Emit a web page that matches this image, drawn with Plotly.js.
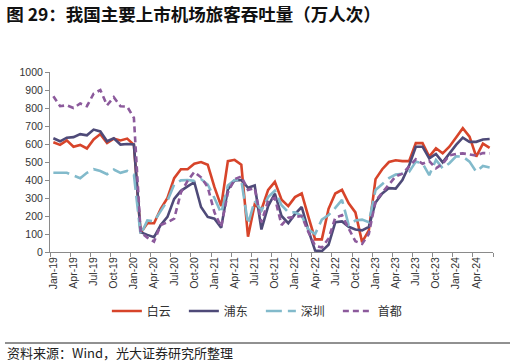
<!DOCTYPE html>
<html>
<head>
<meta charset="utf-8">
<script src="https://cdn.plot.ly/plotly-3.0.1.min.js"></script>
<style>
html,body{margin:0;padding:0;background:#fff;}
#chart{width:516px;height:364px;}
</style>
</head>
<body>
<div id="chart"></div>
<script>
// Months Jan-19 .. Jun-24
const months = ["Jan-19","Feb-19","Mar-19","Apr-19","May-19","Jun-19","Jul-19","Aug-19","Sep-19","Oct-19","Nov-19","Dec-19",
"Jan-20","Feb-20","Mar-20","Apr-20","May-20","Jun-20","Jul-20","Aug-20","Sep-20","Oct-20","Nov-20","Dec-20",
"Jan-21","Feb-21","Mar-21","Apr-21","May-21","Jun-21","Jul-21","Aug-21","Sep-21","Oct-21","Nov-21","Dec-21",
"Jan-22","Feb-22","Mar-22","Apr-22","May-22","Jun-22","Jul-22","Aug-22","Sep-22","Oct-22","Nov-22","Dec-22",
"Jan-23","Feb-23","Mar-23","Apr-23","May-23","Jun-23","Jul-23","Aug-23","Sep-23","Oct-23","Nov-23","Dec-23",
"Jan-24","Feb-24","Mar-24","Apr-24","May-24","Jun-24"];

const baiyun = [610,595,620,585,595,575,625,655,605,630,620,630,
595,105,160,160,240,300,410,460,460,490,500,485,
360,255,505,512,485,85,265,235,345,390,290,255,
305,325,195,70,70,240,325,345,270,220,55,120,
405,460,500,510,505,505,605,605,530,576,548,585,
636,688,641,530,602,578];

const pudong = [632,615,635,638,655,648,680,670,615,632,597,600,
597,110,95,82,150,195,295,340,365,388,250,195,
185,135,348,398,400,357,370,125,255,325,200,160,
210,250,120,8,5,40,165,170,140,125,120,140,
275,325,355,352,400,480,585,585,520,545,498,550,
595,635,612,612,625,628];

const shenzhen = [440,440,440,425,410,440,460,450,432,458,440,450,
430,95,175,170,225,285,375,398,400,395,405,375,
300,215,370,400,400,155,285,230,305,340,260,220,
220,200,125,100,180,205,245,290,150,175,180,165,
345,380,410,430,435,445,502,493,427,511,465,493,
532,530,502,446,478,470];

const capital = [865,810,815,800,825,810,880,900,815,860,810,808,
745,110,80,58,150,165,185,330,395,445,415,360,
220,140,330,405,420,345,355,165,285,300,150,190,
195,200,110,35,25,75,190,205,130,60,45,100,
285,330,378,420,435,475,515,490,505,465,490,537,
545,548,543,536,550,548];

const names = ["白云","浦东","深圳","首都"];
const yTicks = [0,100,200,300,400,500,600,700,800,900,1000];

const idx = months.map((m,i)=>i);
const labelIdx = idx.filter(i=>i%3===0);
const labelText = labelIdx.map(i=>months[i]);
const boundaryIdx = labelIdx.map(i=>i-0.5);

const traces = [
  {x: idx, y: baiyun, name: names[0], mode:'lines', line:{color:'#D7442A', width:2.6}},
  {x: idx, y: pudong, name: names[1], mode:'lines', line:{color:'#4E4A78', width:2.6}},
  {x: idx, y: shenzhen, name: names[2], mode:'lines', line:{color:'#82BACB', width:2.6, dash:'16px,6px'}},
  {x: idx, y: capital, name: names[3], mode:'lines', line:{color:'#8C5A9C', width:2.6, dash:'6px,4px'}},
  {x: [boundaryIdx[0]], y:[null], xaxis:'x2', showlegend:false, hoverinfo:'skip', mode:'lines'}
];

const layout = {
  width:516, height:364,
  margin:{l:50, r:23, t:72, b:112},
  paper_bgcolor:'#fff', plot_bgcolor:'#fff',
  font:{family:'"Liberation Sans", Arial, "Noto Sans CJK SC", sans-serif', color:'#333', size:10.5},
  title:{text:'图 29：我国主要上市机场旅客吞吐量（万人次）', x:0.012, xanchor:'left', xref:'container',
         y:0.96, yanchor:'middle', yref:'container',
         font:{family:'"Noto Sans CJK SC", sans-serif', size:17.5, color:'#111', weight:'bold'}},
  xaxis:{range:[-0.5,65.5], tickmode:'array', tickvals:labelIdx, ticktext:labelText, tickangle:-90,
         ticks:'', showgrid:false, zeroline:false, showline:true, linecolor:'#8a8a8a', linewidth:1,
         tickfont:{size:10.5, color:'#333'}, fixedrange:true},
  xaxis2:{range:[-0.5,65.5], overlaying:'x', tickmode:'array', tickvals:boundaryIdx.concat([65.5]),
          ticks:'outside', ticklen:4, tickcolor:'#8a8a8a', showticklabels:false, showgrid:false,
          zeroline:false, showline:false, side:'bottom', anchor:'y'},
  yaxis:{range:[0,1000], tickmode:'array', tickvals:yTicks, ticks:'outside', ticklen:4, tickcolor:'#8a8a8a',
         showgrid:false, zeroline:false, showline:true, linecolor:'#8a8a8a', linewidth:1,
         tickfont:{size:10.5, color:'#333'}, fixedrange:true},
  showlegend:true,
  legend:{orientation:'h', x:0.476, xanchor:'center', y:-0.328, yanchor:'middle',
          font:{family:'"Noto Sans CJK SC", sans-serif', size:12, color:'#333'},
          entrywidth:32, entrywidthmode:'pixels', bgcolor:'rgba(0,0,0,0)'},
  shapes:[{type:'line', xref:'paper', yref:'paper', x0:-0.1016, x1:1.0384, y0:-0.5056, y1:-0.5056,
           line:{color:'#222', width:1}}],
  annotations:[{text:'资料来源：Wind，光大证券研究所整理', xref:'paper', yref:'paper', x:-0.1016, xanchor:'left',
                y:-0.561, yanchor:'middle', showarrow:false,
                font:{family:'"Noto Sans CJK SC", sans-serif', size:13, color:'#222'}}]
};

Plotly.newPlot('chart', traces, layout, {displayModeBar:false, staticPlot:true});
</script>
</body>
</html>
